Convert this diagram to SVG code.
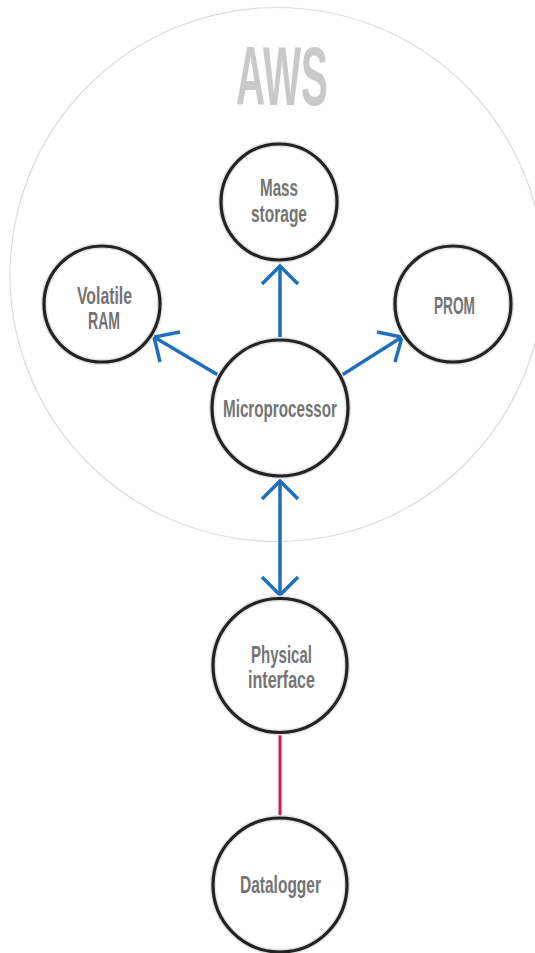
<svg xmlns="http://www.w3.org/2000/svg" width="535" height="953" viewBox="0 0 535 953">
  <style>
    .halo { fill: #ffffff; stroke: #e2e2e2; stroke-width: 6; }
    .ring { fill: none; stroke: #232323; stroke-width: 3.2; }
    .lbl { font-family: "Liberation Sans Narrow", "Liberation Sans", "DejaVu Sans Condensed", sans-serif; font-weight: bold; font-size: 24px; fill: #747474; text-anchor: middle; }
    .title { font-family: "Liberation Sans Narrow", "Liberation Sans", sans-serif; font-weight: bold; font-size: 84px; fill: #c9c9c9; text-anchor: middle; }
    .blue { fill: none; stroke: #1f6fbd; stroke-width: 3.5; stroke-linecap: butt; stroke-linejoin: miter; }
    .red { fill: none; stroke: #d01c5c; stroke-width: 3; }
  </style>

  <!-- system boundary -->
  <g id="aws">
    <circle cx="277" cy="274.5" r="267" fill="none" stroke="#dcdcdc" stroke-width="1.2"/>
    <text class="title" x="282" y="105" textLength="92" lengthAdjust="spacingAndGlyphs">AWS</text>
  </g>

  <!-- connectors -->
  <g id="connectors">
    <!-- microprocessor to mass storage -->
    <line class="blue" x1="280" y1="340" x2="280" y2="266"/>
    <polyline class="blue" points="262,284 280,266 298,284"/>
    <!-- microprocessor to volatile RAM -->
    <line class="blue" x1="218" y1="375" x2="154" y2="337"/>
    <polyline class="blue" points="180,332 154,337 160,362"/>
    <!-- microprocessor to PROM -->
    <line class="blue" x1="342" y1="375" x2="402" y2="337"/>
    <polyline class="blue" points="377,332 402,337 395,362"/>
    <!-- microprocessor to physical interface (bidirectional) -->
    <line class="blue" x1="280" y1="481" x2="280" y2="594"/>
    <polyline class="blue" points="262,499 280,481 298,499"/>
    <polyline class="blue" points="262,577 280,595 298,577"/>
    <!-- physical interface to datalogger -->
    <line class="red" x1="280" y1="733" x2="280" y2="818"/>
  </g>

  <g id="mass-storage">
    <circle class="halo" cx="279" cy="202" r="58"/>
    <circle class="ring" cx="279" cy="202" r="58"/>
    <text class="lbl" x="279" y="196" textLength="38" lengthAdjust="spacingAndGlyphs">Mass</text>
    <text class="lbl" x="279" y="222" textLength="56" lengthAdjust="spacingAndGlyphs">storage</text>
  </g>

  <g id="volatile-ram">
    <circle class="halo" cx="102" cy="304" r="58"/>
    <circle class="ring" cx="102" cy="304" r="58"/>
    <text class="lbl" x="104.5" y="304" textLength="55" lengthAdjust="spacingAndGlyphs">Volatile</text>
    <text class="lbl" x="104" y="329" textLength="32" lengthAdjust="spacingAndGlyphs">RAM</text>
  </g>

  <g id="prom">
    <circle class="halo" cx="453" cy="304" r="58"/>
    <circle class="ring" cx="453" cy="304" r="58"/>
    <text class="lbl" x="454.5" y="314" textLength="41" lengthAdjust="spacingAndGlyphs">PROM</text>
  </g>

  <g id="microprocessor">
    <circle class="halo" cx="280" cy="408" r="68"/>
    <circle class="ring" cx="280" cy="408" r="68"/>
    <text class="lbl" x="280" y="417" textLength="114" lengthAdjust="spacingAndGlyphs">Microprocessor</text>
  </g>

  <g id="physical-interface">
    <circle class="halo" cx="280" cy="665.5" r="67"/>
    <circle class="ring" cx="280" cy="665.5" r="67"/>
    <text class="lbl" x="281.5" y="663" textLength="61" lengthAdjust="spacingAndGlyphs">Physical</text>
    <text class="lbl" x="281.5" y="688" textLength="67" lengthAdjust="spacingAndGlyphs">interface</text>
  </g>

  <g id="datalogger">
    <circle class="halo" cx="280" cy="885" r="67"/>
    <circle class="ring" cx="280" cy="885" r="67"/>
    <text class="lbl" x="280.5" y="893" textLength="81" lengthAdjust="spacingAndGlyphs">Datalogger</text>
  </g>
</svg>
